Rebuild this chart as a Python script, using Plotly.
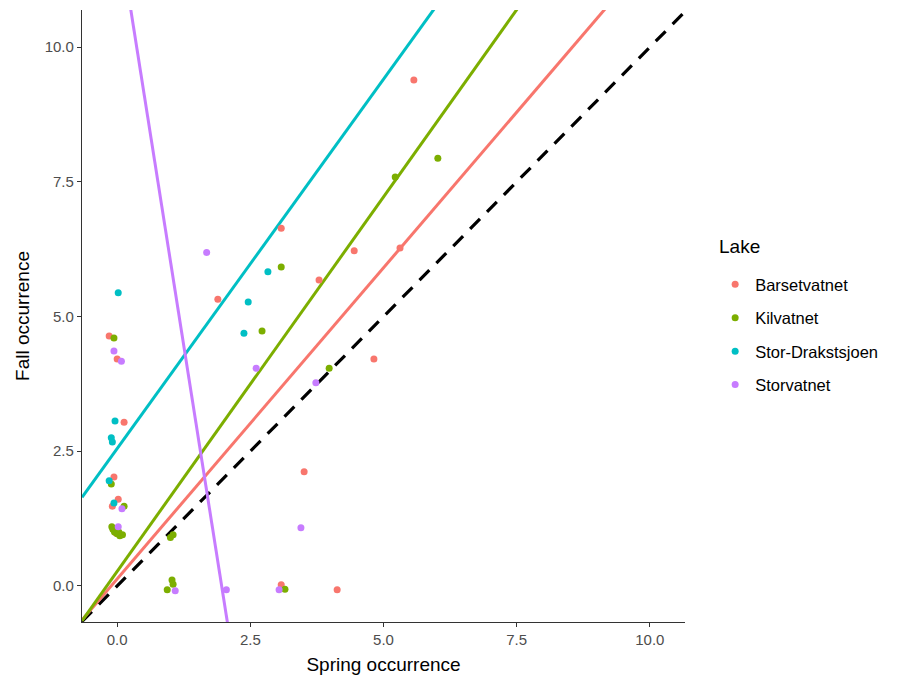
import plotly.graph_objects as go

lakes = ["Barsetvatnet", "Kilvatnet", "Stor-Drakstsjoen", "Storvatnet"]
colors = ["#F8766D", "#7CAE00", "#00BFC4", "#C77CFF"]

bars_x = [-0.15, 0.00, 0.13, -0.06, 0.02, -0.09, -0.02, 5.57, 3.08, 4.45, 5.31, 3.79, 1.89, 4.82, 3.51, 3.08, 4.13]
bars_y = [4.64, 4.21, 3.04, 2.02, 1.61, 1.48, 0.98, 9.39, 6.64, 6.22, 6.27, 5.68, 5.32, 4.21, 2.12, 0.02, -0.07]

kil_x = [-0.06, -0.11, 0.13, -0.10, -0.05, 0.00, 0.05, 0.10, -0.08, 0.03, 6.02, 5.22, 3.08, 2.72, 3.98, 3.15, 1.00, 1.05, 1.03, 1.05, 0.94]
kil_y = [4.60, 1.89, 1.48, 1.10, 1.00, 0.97, 0.93, 0.95, 1.05, 1.00, 7.94, 7.59, 5.92, 4.73, 4.04, -0.06, 0.90, 0.95, 0.11, 0.03, -0.07]

stor_d_x = [0.02, -0.04, -0.11, -0.09, -0.15, -0.06, 2.83, 2.46, 2.38]
stor_d_y = [5.44, 3.06, 2.75, 2.67, 1.95, 1.54, 5.83, 5.27, 4.69]

storv_x = [-0.06, 0.08, 0.09, 0.02, 1.68, 2.61, 3.73, 3.45, 2.05, 3.04, 1.09]
storv_y = [4.36, 4.17, 1.43, 1.10, 6.19, 4.04, 3.77, 1.08, -0.07, -0.07, -0.09]

# fitted lines per lake: intercept, slope
intercepts = [0.13, 0.27, 2.55, 12.3]
slopes = [1.155, 1.39, 1.371, -6.27]

x_range = [-0.66, 10.66]
y_range = [-0.67, 10.69]

xs_all = [bars_x, kil_x, stor_d_x, storv_x]
ys_all = [bars_y, kil_y, stor_d_y, storv_y]

FONT = "Liberation Sans, Arial"

fig = go.Figure()

# identity line
fig.add_trace(go.Scatter(x=x_range, y=x_range, mode="lines",
                         line=dict(color="black", width=3.2, dash="14px,10px"),
                         showlegend=False, hoverinfo="skip"))

for name, col, a, b in zip(lakes, colors, intercepts, slopes):
    lx = [x_range[0], x_range[1]]
    ly = [a + b * v for v in lx]
    fig.add_trace(go.Scatter(x=lx, y=ly, mode="lines",
                             line=dict(color=col, width=3),
                             showlegend=False, hoverinfo="skip"))

for name, col, xs, ys in zip(lakes, colors, xs_all, ys_all):
    fig.add_trace(go.Scatter(x=xs, y=ys, mode="markers", name=name,
                             legendgroup=name,
                             marker=dict(color=col, size=7)))

axis_common = dict(showgrid=False, zeroline=False, showline=True,
                   linecolor="#333333", linewidth=1.2,
                   ticks="outside", ticklen=4, tickcolor="#333333", tickwidth=1.1,
                   tickfont=dict(family=FONT, size=15, color="#4D4D4D"),
                   tickvals=[0, 2.5, 5, 7.5, 10],
                   ticktext=["0.0", "2.5", "5.0", "7.5", "10.0"])

fig.update_xaxes(range=x_range, title=dict(text="Spring occurrence",
                 font=dict(family=FONT, size=19, color="black"), standoff=10),
                 **axis_common)
fig.update_yaxes(range=y_range, title=dict(text="Fall occurrence",
                 font=dict(family=FONT, size=19, color="black"), standoff=10),
                 **axis_common)

fig.add_annotation(text="Lake", xref="paper", yref="paper",
                   x=1.053, y=0.614, xanchor="left", yanchor="middle",
                   showarrow=False, font=dict(family=FONT, size=19, color="black"))

fig.update_layout(
    width=901, height=682,
    margin=dict(l=82, r=216, t=10, b=60),
    plot_bgcolor="white", paper_bgcolor="white",
    font=dict(family=FONT),
    legend=dict(font=dict(size=16.5, color="black"),
                x=1.05, y=0.58, xanchor="left", yanchor="top",
                tracegroupgap=9, itemsizing="trace"),
)

fig.write_html("out.html")
